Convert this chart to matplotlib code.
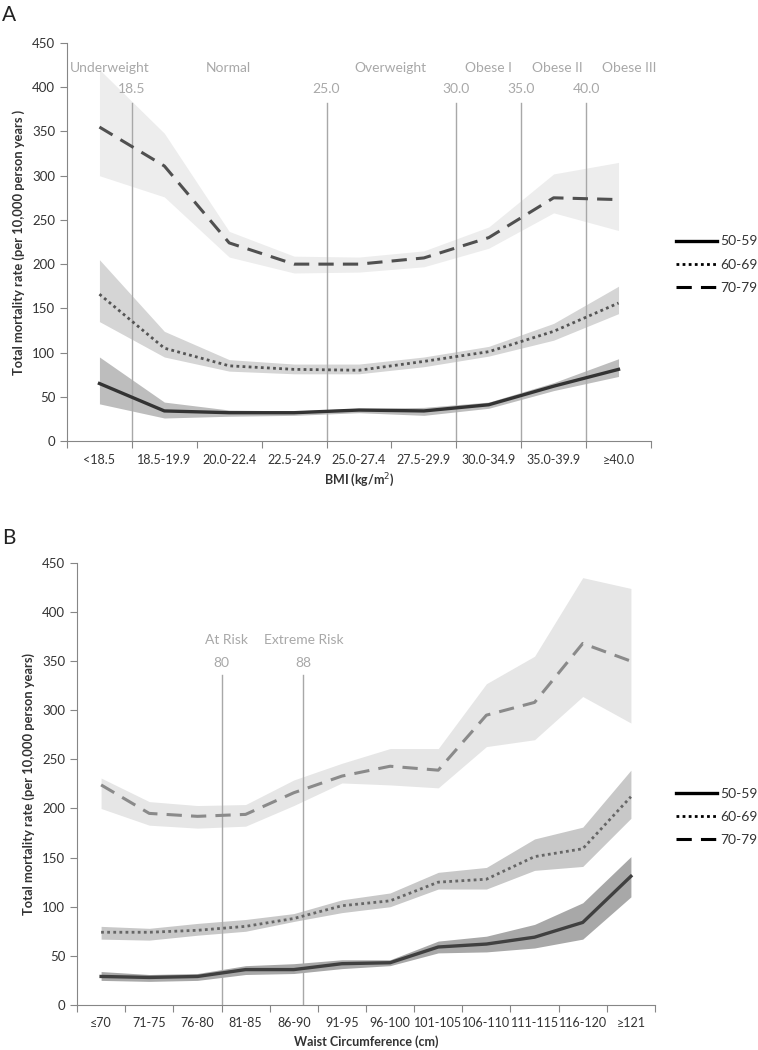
import matplotlib.pyplot as plt
from matplotlib.lines import Line2D
import numpy as np

plt.rcParams['font.family'] = ['Lato', 'DejaVu Sans']

# panel A: BMI
bmi_cats = ['<18.5', '18.5-19.9', '20.0-22.4', '22.5-24.9', '25.0-27.4',
            '27.5-29.9', '30.0-34.9', '35.0-39.9', '≥40.0']
a_5059 = [65, 34, 32, 32, 35, 34, 41, 62, 81]
a_5059_lo = [42, 26, 28, 29, 32, 29, 37, 57, 73]
a_5059_hi = [95, 44, 35, 34, 37, 38, 44, 66, 93]
a_6069 = [166, 105, 85, 81, 80, 90, 101, 124, 156]
a_6069_lo = [135, 95, 79, 76, 76, 84, 96, 114, 144]
a_6069_hi = [205, 124, 92, 87, 87, 95, 107, 133, 175]
a_7079 = [355, 311, 224, 200, 200, 207, 230, 275, 273]
a_7079_lo = [300, 276, 208, 190, 191, 197, 218, 258, 238]
a_7079_hi = [420, 348, 237, 209, 208, 215, 242, 302, 315]
bmi_cut_pos = [0.5, 3.5, 5.5, 6.5, 7.5]
bmi_cut_txt = ['18.5', '25.0', '30.0', '35.0', '40.0']
bmi_class_pos = [0.16, 1.98, 4.48, 6.0, 7.05, 8.17]
bmi_class_txt = ['Underweight', 'Normal', 'Overweight', 'Obese I', 'Obese II', 'Obese III']

# panel B: waist circumference
wc_cats = ['≤70', '71-75', '76-80', '81-85', '86-90', '91-95', '96-100',
           '101-105', '106-110', '111-115', '116-120', '≥121']
b_5059 = [29, 28, 29, 36, 36, 42, 43, 59, 62, 69, 84, 131]
b_5059_lo = [25, 24, 25, 31, 32, 37, 40, 53, 54, 58, 67, 110]
b_5059_hi = [34, 31, 32, 40, 42, 46, 46, 65, 70, 82, 104, 151]
b_6069 = [74, 74, 76, 80, 88, 101, 106, 125, 128, 151, 159, 212]
b_6069_lo = [67, 66, 71, 75, 85, 94, 100, 118, 118, 137, 141, 190]
b_6069_hi = [80, 78, 83, 87, 93, 107, 114, 135, 140, 169, 181, 239]
b_7079 = [224, 195, 192, 194, 216, 233, 243, 239, 295, 308, 368, 350]
b_7079_lo = [200, 183, 180, 182, 203, 226, 224, 221, 263, 270, 314, 287]
b_7079_hi = [231, 207, 203, 204, 229, 246, 261, 261, 327, 355, 435, 424]
wc_cut_pos = [2.5, 4.2]
wc_cut_txt = ['80', '88']
wc_class_pos = [2.6, 4.2]
wc_class_txt = ['At Risk', 'Extreme Risk']

fig = plt.figure(figsize=(7.58, 10.5), dpi=100)
axA = fig.add_axes([0.0884, 0.58, 0.7704, 0.379])
axB = fig.add_axes([0.1016, 0.0429, 0.7625, 0.421])

ref_col = '#a8a8a8'
lab_col = '#333333'
dot_style = dict(ls=(0, (1, 1.2)), lw=2.0, dash_capstyle='butt')
dash_style = dict(ls=(0, (5, 3)), lw=2.2)


def panel(ax, cats, series, band_cols, line_cols, cut_pos, cut_txt, cut_top,
          cut_lab_y, class_pos, class_txt, class_y, ylabel, xlabel):
    x = np.arange(len(cats))
    for (mid, lo, hi), bc in zip(series, band_cols):
        ax.fill_between(x, lo, hi, color=bc, lw=0, zorder=1)
    for p in cut_pos:
        ax.plot([p, p], [0, cut_top], color=ref_col, lw=1, zorder=2)
    styles = [dict(ls='-', lw=2.4), dot_style, dash_style]
    for (mid, lo, hi), lc, st in zip(series, line_cols, styles):
        ax.plot(x, mid, color=lc, zorder=3, **st)
    for p, t in zip(cut_pos, cut_txt):
        ax.text(p, cut_lab_y, t, ha='center', va='center', color=ref_col, fontsize=10)
    for p, t in zip(class_pos, class_txt):
        ax.text(p, class_y, t, ha='center', va='center', color=ref_col, fontsize=10)
    ax.set_xlim(-0.5, len(cats) - 0.5)
    ax.set_ylim(0, 450)
    ax.set_yticks(range(0, 451, 50))
    ax.set_xticks(np.arange(-0.5, len(cats), 1.0))
    ax.set_xticklabels([])
    ax.set_xticks(x, minor=True)
    ax.set_xticklabels(cats, minor=True)
    ax.tick_params(axis='x', which='major', length=5, color='#868686')
    ax.tick_params(axis='x', which='minor', length=0, pad=9, labelsize=9, labelcolor=lab_col)
    ax.tick_params(axis='y', length=5, color='#868686', labelsize=9.5, labelcolor=lab_col)
    for s in ['top', 'right']:
        ax.spines[s].set_visible(False)
    for s in ['left', 'bottom']:
        ax.spines[s].set_color('#868686')
    ax.set_ylabel(ylabel, fontsize=9.3, fontweight='bold', color=lab_col, labelpad=5)
    ax.set_xlabel(xlabel, fontsize=9, fontweight='bold', color=lab_col, labelpad=4)


panel(axA, bmi_cats,
      [(a_5059, a_5059_lo, a_5059_hi), (a_6069, a_6069_lo, a_6069_hi),
       (a_7079, a_7079_lo, a_7079_hi)],
      ['#bdbdbd', '#d5d5d5', '#ededed'], ['#333333', '#555555', '#505050'],
      bmi_cut_pos, bmi_cut_txt, 382, 398, bmi_class_pos, bmi_class_txt, 422,
      'Total mortality rate (per 10,000 person years )', 'BMI (kg/m$^2$)')

panel(axB, wc_cats,
      [(b_5059, b_5059_lo, b_5059_hi), (b_6069, b_6069_lo, b_6069_hi),
       (b_7079, b_7079_lo, b_7079_hi)],
      ['#a8a8a8', '#c8c8c8', '#e6e6e6'], ['#404040', '#666666', '#8a8a8a'],
      wc_cut_pos, wc_cut_txt, 336, 348, wc_class_pos, wc_class_txt, 372,
      'Total mortality rate (per 10,000 person years)', 'Waist Circumference (cm)')

handles = [Line2D([], [], color='black', ls='-', lw=2.4),
           Line2D([], [], color='black', **dot_style),
           Line2D([], [], color='black', **dash_style)]
ages = ['50-59', '60-69', '70-79']
for ax, yc in [(axA, 0.748), (axB, 0.222)]:
    ax.legend(handles, ages, loc='center left', bbox_to_anchor=(0.875, yc),
              bbox_transform=fig.transFigure, frameon=False, fontsize=10,
              handlelength=3.0, handletextpad=0.2, labelspacing=0.8, labelcolor=lab_col)

fig.text(0.003, 0.995, 'A', fontsize=15, va='top', ha='left', color='#222222')
fig.text(0.003, 0.497, 'B', fontsize=15, va='top', ha='left', color='#222222')

fig.savefig('out.png', dpi=100)
